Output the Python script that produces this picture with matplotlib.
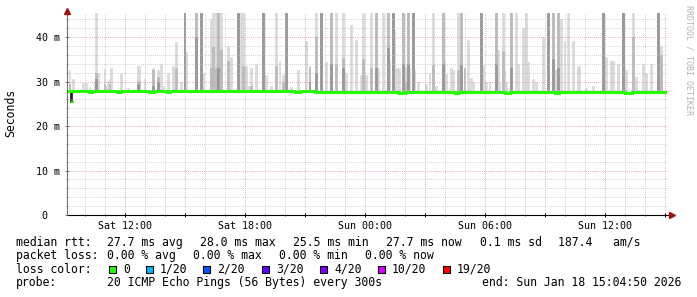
import numpy as np
import pandas as pd
import matplotlib
matplotlib.use("Agg")
import matplotlib.pyplot as plt
import matplotlib.dates as mdates
from matplotlib.ticker import MultipleLocator, FuncFormatter
from matplotlib.patches import Rectangle

# ---------------------------------------------------------------
# Data (values in ms)
# ---------------------------------------------------------------

DAYS = {"Sat": "2026-01-17", "Sun": "2026-01-18"}
F = 46.0   # smoke that runs off the top of the graph

# outer (light) smoke: time of sample, top of smoke
light_time = [
    "Sat 09:15", "Sat 09:25", "Sat 09:55", "Sat 10:05", "Sat 10:15", "Sat 10:30", "Sat 10:35", "Sat 10:40",
    "Sat 11:00", "Sat 11:05", "Sat 11:10", "Sat 11:15", "Sat 11:20", "Sat 11:50", "Sat 12:10", "Sat 12:40",
    "Sat 12:45", "Sat 13:00", "Sat 13:25", "Sat 13:40", "Sat 13:50", "Sat 13:55", "Sat 14:10", "Sat 14:25",
    "Sat 14:35", "Sat 14:50", "Sat 15:00", "Sat 15:05", "Sat 15:35", "Sat 15:50", "Sat 15:55", "Sat 16:20",
    "Sat 16:25", "Sat 16:35", "Sat 16:40", "Sat 16:50", "Sat 17:10", "Sat 17:20", "Sat 17:40", "Sat 17:50",
    "Sat 17:55", "Sat 18:05", "Sat 18:10", "Sat 18:20", "Sat 18:35", "Sat 18:55", "Sat 19:05", "Sat 19:20",
    "Sat 19:35", "Sat 19:45", "Sat 19:55", "Sat 20:05", "Sat 20:20", "Sat 20:40", "Sat 21:05", "Sat 21:15",
    "Sat 21:35", "Sat 21:50", "Sat 22:05", "Sat 22:20", "Sat 22:35", "Sat 22:55", "Sat 23:05", "Sat 23:20",
    "Sat 23:35", "Sat 23:50", "Sat 23:55", "Sun 00:05", "Sun 00:20", "Sun 00:35", "Sun 00:40", "Sun 00:55",
    "Sun 01:10", "Sun 01:15", "Sun 01:25", "Sun 01:30", "Sun 01:35", "Sun 01:40", "Sun 01:45", "Sun 01:55",
    "Sun 02:00", "Sun 02:05", "Sun 02:10", "Sun 02:15", "Sun 02:25", "Sun 02:30", "Sun 02:40", "Sun 03:05",
    "Sun 03:15", "Sun 03:25", "Sun 03:35", "Sun 03:55", "Sun 04:00", "Sun 04:05", "Sun 04:20", "Sun 04:25",
    "Sun 04:40", "Sun 04:50", "Sun 05:00", "Sun 05:10", "Sun 05:20", "Sun 05:25", "Sun 05:50", "Sun 05:55",
    "Sun 06:05", "Sun 06:15", "Sun 06:35", "Sun 06:40", "Sun 06:45", "Sun 06:55", "Sun 07:00", "Sun 07:05",
    "Sun 07:20", "Sun 07:35", "Sun 07:40", "Sun 07:55", "Sun 08:05", "Sun 08:10", "Sun 08:25", "Sun 08:35",
    "Sun 08:55", "Sun 09:10", "Sun 09:25", "Sun 09:35", "Sun 09:40", "Sun 09:50", "Sun 10:00", "Sun 10:10",
    "Sun 10:25", "Sun 10:40", "Sun 10:45", "Sun 11:05", "Sun 11:25", "Sun 11:55", "Sun 12:05", "Sun 12:20",
    "Sun 12:25", "Sun 12:40", "Sun 12:55", "Sun 13:05", "Sun 13:25", "Sun 13:35", "Sun 13:55", "Sun 14:05",
    "Sun 14:20", "Sun 14:40", "Sun 14:50",
]
light_top = [
    32.6, 30.5, 29.6, 29.6, 28.7, 29.9, F, 32.0,
    32.8, 29.0, 30.2, 30.6, 33.0, 32.0, 28.5, 33.5,
    33.5, 30.5, 33.0, 32.7, 34.0, 29.0, 32.0, 33.5,
    38.8, 30.0, F, 36.7, F, F, 32.0, 44.0,
    F, F, F, F, 38.0, 35.5, F, F,
    F, 33.5, 29.0, 33.0, 34.0, F, 31.5, 29.0,
    F, 34.7, 31.5, F, 28.7, 32.7, 39.0, 33.5,
    F, F, 34.3, F, F, F, 32.0, 42.7,
    39.3, 31.5, F, 31.5, F, F, 33.0, F,
    F, 34.8, F, 41.6, 33.0, 33.0, 33.0, F,
    33.3, 33.3, F, 33.3, F, 32.5, 30.0, 29.5,
    32.0, F, 29.0, F, 34.6, 31.6, 33.0, 32.5,
    F, F, 33.0, 39.3, 30.7, 30.0, F, 33.8,
    30.0, 30.0, F, 37.0, 30.0, F, 32.7, 30.0,
    F, F, 34.0, 42.0, F, 34.3, 30.5, 30.0,
    40.0, F, F, 32.7, F, 44.0, 39.0, F,
    39.0, 33.5, 33.5, 28.5, 29.0, F, 35.5, 34.6,
    34.6, 34.0, F, 32.7, F, 31.0, 34.0, 32.0,
    34.0, F, 38.0,
]

# middle smoke
mid_time = [
    "Sat 09:15", "Sat 10:35", "Sat 11:00", "Sat 11:15", "Sat 12:40", "Sat 12:45", "Sat 13:25", "Sat 13:40",
    "Sat 14:35", "Sat 15:00", "Sat 15:35", "Sat 15:50", "Sat 16:20", "Sat 16:25", "Sat 16:35", "Sat 16:40",
    "Sat 16:50", "Sat 17:10", "Sat 17:40", "Sat 17:55", "Sat 18:20", "Sat 18:55", "Sat 19:35", "Sat 19:55",
    "Sat 20:05", "Sat 21:15", "Sat 21:35", "Sat 21:50", "Sat 22:20", "Sat 22:35", "Sat 22:55", "Sat 23:55",
    "Sun 00:20", "Sun 00:35", "Sun 01:10", "Sun 01:25", "Sun 01:55", "Sun 02:05", "Sun 02:10", "Sun 02:25",
    "Sun 03:25", "Sun 03:55", "Sun 04:40", "Sun 04:50", "Sun 05:00", "Sun 05:50", "Sun 06:35", "Sun 06:55",
    "Sun 07:20", "Sun 09:10", "Sun 09:25", "Sun 09:40", "Sun 11:55", "Sun 12:55", "Sun 13:25", "Sun 14:40",
    "Sun 14:50",
]
mid_top = [
    29.5, 32.0, 29.5, 29.5, 30.2, 30.0, 32.7, 31.0,
    33.0, F, F, F, 33.0, 37.8, 33.0, F,
    37.0, 34.5, F, 33.6, 29.0, F, 33.6, 30.0,
    F, 33.3, 40.0, F, F, 34.0, 35.3, 35.0,
    33.0, F, F, F, F, 30.0, F, F,
    33.8, F, 32.5, F, 33.0, F, F, 36.8,
    F, F, F, F, F, F, 40.0, F,
    36.0,
]

# inner (dark) smoke
dark_time = [
    "Sat 10:35", "Sat 12:40", "Sat 13:25", "Sat 13:40", "Sat 15:00", "Sat 15:35", "Sat 15:50", "Sat 16:40",
    "Sat 17:40", "Sat 18:55", "Sat 20:05", "Sat 21:15", "Sat 21:35", "Sat 21:50", "Sat 22:20", "Sat 22:55",
    "Sun 00:35", "Sun 01:10", "Sun 01:25", "Sun 01:55", "Sun 02:10", "Sun 02:25", "Sun 03:55", "Sun 04:50",
    "Sun 05:50", "Sun 06:35", "Sun 07:20", "Sun 09:10", "Sun 09:25", "Sun 09:40", "Sun 11:55", "Sun 12:55",
    "Sun 14:40",
]
dark_top = [
    30.5, 29.5, 29.0, 30.0, F, 40.0, F, 33.0,
    F, F, F, 30.0, 32.0, F, 34.0, 33.0,
    33.0, 37.5, F, 34.0, 34.0, F, 34.0, 33.8,
    F, 34.0, 33.0, F, 35.0, 33.0, F, F,
    F,
]

# the one dip at the start: dense smoke below the median, median touches 25.5
dip_time = ["Sat 09:20"]
dip_low = [25.5]
dip_high = [27.6]

# median rtt, as a step line (change points)
median_time = [
    "Sat 09:05", "Sat 10:10", "Sat 10:20", "Sat 11:35", "Sat 11:45", "Sat 13:10",
    "Sat 13:25", "Sat 14:05", "Sat 14:15", "Sat 17:30", "Sat 17:40", "Sat 18:50", "Sat 19:00", "Sat 20:30",
    "Sat 20:45", "Sat 21:30", "Sat 22:45", "Sat 23:00", "Sun 00:30", "Sun 01:40", "Sun 02:00", "Sun 03:30",
    "Sun 04:30", "Sun 04:40", "Sun 06:10", "Sun 07:00", "Sun 07:15", "Sun 08:30", "Sun 09:30", "Sun 09:40",
    "Sun 11:30", "Sun 13:00", "Sun 13:20", "Sun 15:00",
]
median_ms = [
    27.9, 27.7, 27.9, 27.7, 27.9, 27.7,
    27.9, 27.7, 27.9, 27.8, 27.9, 27.8, 27.9, 27.7,
    27.8, 27.7, 27.6, 27.7, 27.6, 27.5, 27.7, 27.6,
    27.5, 27.7, 27.6, 27.5, 27.7, 27.6, 27.5, 27.7,
    27.6, 27.5, 27.7, 27.6,
]

# legend text
rtt_stats = ["27.7 ms avg", "28.0 ms max", "25.5 ms min", "27.7 ms now", "0.1 ms sd", "187.4   am/s"]
loss_stats = ["0.00 % avg", "0.00 % max", "0.00 % min", "0.00 % now"]
loss_labels = ["0", "1/20", "2/20", "3/20", "4/20", "10/20", "19/20"]
loss_colors = ["#26ff00", "#00b8ff", "#0059ff", "#5e00ff", "#7e00ff", "#dd00ff", "#ff0000"]
probe_text = "20 ICMP Echo Pings (56 Bytes) every 300s"
end_text = "end: Sun Jan 18 15:04:50 2026"

# ---------------------------------------------------------------
# Helpers
# ---------------------------------------------------------------

W, H = 697, 297
MONO = "DejaVu Sans Mono"
GREEN = "#26ff00"


def ts(s):
    day, hm = s.split()
    return pd.Timestamp(f"{DAYS[day]} {hm}")


def fx(px):
    return px / W


def fy(py):
    return 1 - py / H


STEP = pd.Timedelta(minutes=5)
BASE = 27.6   # smoke starts at the median line

fig = plt.figure(figsize=(W / 100, H / 100), dpi=100)
ax = fig.add_axes([fx(67), fy(215), 600 / W, (215 - 13) / H])


def smoke(times, tops, color):
    t = [ts(s) - STEP for s in times]
    tops = np.array(tops)
    ax.bar(t, tops - BASE, bottom=BASE, width=STEP, align="edge",
           color=color, edgecolor=color, linewidth=0.5, zorder=1)


smoke(light_time, light_top, "#d9d9d9")
smoke(mid_time, mid_top, "#bababa")
smoke(dark_time, dark_top, "#989898")

# dip: dark column plus the short bit of median at its bottom
dip_t = [ts(s) - STEP for s in dip_time]
ax.bar(dip_t, np.array(dip_high) - np.array(dip_low), bottom=dip_low, width=STEP,
       align="edge", color="#1c1c1c", edgecolor="#1c1c1c", linewidth=0.5, zorder=1)
for t, lo in zip(dip_time, dip_low):
    ax.plot([ts(t), ts(t) + pd.Timedelta(minutes=2)], [lo, lo], color=GREEN, lw=1.6, zorder=3)

med_t = [ts(s) for s in median_time]
ax.plot(med_t, median_ms, drawstyle="steps-post", color=GREEN, lw=2.2,
        solid_joinstyle="miter", zorder=3)

t0 = pd.Timestamp(f"{DAYS['Sat']} 09:04:50")
t1 = pd.Timestamp(f"{DAYS['Sun']} 15:04:50")
ax.set_xlim(t0, t1)
ax.set_ylim(0, 45.4)

# ---- grid ----
ax.xaxis.set_major_locator(mdates.HourLocator(byhour=range(0, 24, 3)))
ax.xaxis.set_minor_locator(mdates.HourLocator())
ax.xaxis.set_major_formatter(FuncFormatter(
    lambda v, p: mdates.num2date(v).strftime("%a %H:%M") if mdates.num2date(v).hour % 6 == 0 else ""))
ax.yaxis.set_major_locator(MultipleLocator(10))
ax.yaxis.set_minor_locator(MultipleLocator(2))
ax.yaxis.set_major_formatter(FuncFormatter(lambda v, p: " 0  " if v == 0 else f"{v:.0f} m"))

dots = (0, (0.7, 1.4))
ax.grid(which="minor", color="#c0c0c0", lw=0.7, linestyle=dots)
ax.grid(which="major", color="#e09494", lw=0.7, linestyle=dots)

for s in ax.spines.values():
    s.set_visible(False)

ax.tick_params(axis="both", which="major", direction="inout", length=3.5, width=0.7,
               labelsize=7.2, colors="#000000")
ax.tick_params(axis="both", which="minor", direction="inout", length=2, width=0.6)
ax.tick_params(axis="x", which="major", pad=2.3)
ax.tick_params(axis="y", which="major", pad=3.2, color="#777777")
ax.tick_params(axis="y", which="minor", color="#999999")
ax.tick_params(axis="x", which="minor", color="#555555")
for lab in ax.get_xticklabels() + ax.get_yticklabels():
    lab.set_family(MONO)

# ---- axes lines with arrows ----
ax.plot([0, 1.008], [0, 0], transform=ax.transAxes, color="black", lw=0.8,
        clip_on=False, zorder=5)
ax.plot([0, 0], [0, 1.012], transform=ax.transAxes, color="#707070", lw=0.8,
        clip_on=False, zorder=5)
ax.plot([1.008], [0], marker=">", ms=4, color="#9a1414", transform=ax.transAxes,
        clip_on=False, zorder=6)
ax.plot([0], [1.012], marker="^", ms=4, color="#9a1414", transform=ax.transAxes,
        clip_on=False, zorder=6)

# ---- side texts ----
fig.text(fx(11), fy(113), "Seconds", rotation=90, ha="center", va="center",
         family=MONO, fontsize=8.3)
fig.text(fx(688.5), fy(60), "RRDTOOL / TOBI OETIKER", rotation=270, ha="center",
         va="center", family=MONO, fontsize=6, color="#b4b4b4")

# ---- legend block ----
LEG = 8.3
rows = [245.7, 259.2, 272.7, 286.0]

fig.text(fx(16), fy(rows[0]), "median rtt:", family=MONO, fontsize=LEG, va="baseline")
for x, s in zip([107, 200, 293, 386, 480, 558], rtt_stats):
    fig.text(fx(x), fy(rows[0]), s, family=MONO, fontsize=LEG, va="baseline")

fig.text(fx(16), fy(rows[1]), "packet loss:", family=MONO, fontsize=LEG, va="baseline")
for x, s in zip([107, 193, 279, 365], loss_stats):
    fig.text(fx(x), fy(rows[1]), s, family=MONO, fontsize=LEG, va="baseline")

fig.text(fx(16), fy(rows[2]), "loss color:", family=MONO, fontsize=LEG, va="baseline")
box_x = [109, 146, 203, 262, 320, 378, 443]
for bx, lab, col in zip(box_x, loss_labels, loss_colors):
    fig.add_artist(Rectangle((fx(bx), fy(272.5)), 7 / W, 7 / H, transform=fig.transFigure,
                             facecolor=col, edgecolor="black", lw=0.8))
    fig.text(fx(bx + 14), fy(rows[2]), lab, family=MONO, fontsize=LEG, va="baseline")

fig.text(fx(16), fy(rows[3]), "probe:", family=MONO, fontsize=LEG, va="baseline")
fig.text(fx(107), fy(rows[3]), probe_text, family=MONO, fontsize=LEG, va="baseline")
fig.text(fx(681), fy(rows[3]), end_text, family=MONO, fontsize=LEG, va="baseline", ha="right")

fig.savefig("out.png", dpi=100, facecolor="white")
